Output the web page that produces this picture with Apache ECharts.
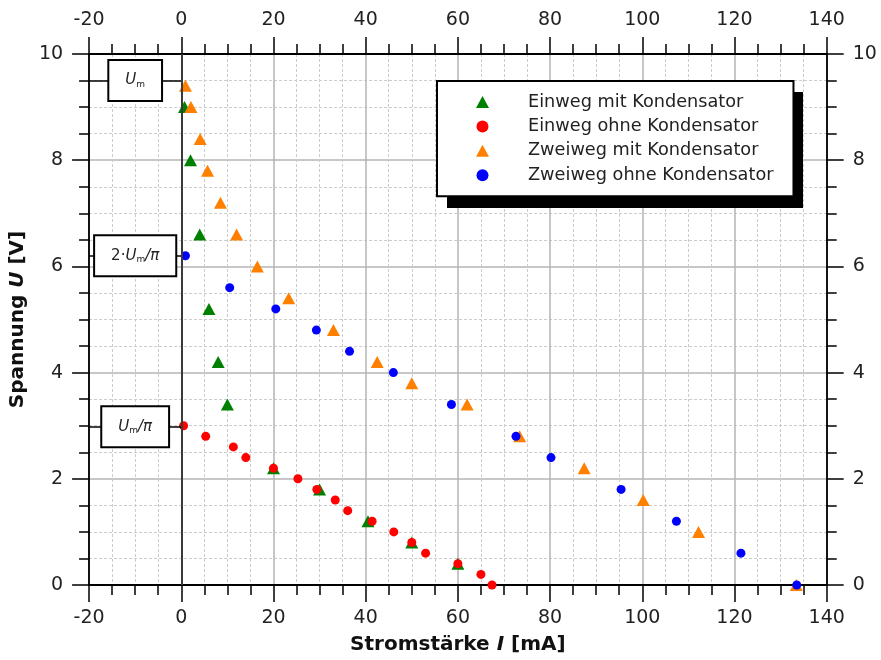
<!DOCTYPE html>
<html>
<head>
<meta charset="utf-8">
<script src="https://cdn.jsdelivr.net/npm/echarts@6/dist/echarts.min.js"></script>
<style>
  html, body { margin: 0; padding: 0; background: #fff; }
  #main { width: 881px; height: 660px; }
</style>
</head>
<body>
<div id="main"></div>
<script>
// Messwerte: Strom I [mA], Spannung U [V]
var einwegMitI = [0.7, 2, 4, 6, 8, 10, 20, 30, 40.5, 50, 60];
var einwegMitU = [9.0, 8.0, 6.6, 5.2, 4.2, 3.4, 2.2, 1.8, 1.2, 0.8, 0.4];

var einwegOhneI = [0.5, 5.3, 11.3, 14, 20, 25.3, 29.4, 33.4, 36.1, 41.4, 46.1, 50, 53, 60, 65, 67.4];
var einwegOhneU = [3.0, 2.8, 2.6, 2.4, 2.2, 2.0, 1.8, 1.6, 1.4, 1.2, 1.0, 0.8, 0.6, 0.4, 0.2, 0.0];

var zweiwegMitI = [0.9, 2.1, 4.1, 5.7, 8.5, 12, 16.5, 23.3, 33, 42.5, 50, 62, 73.4, 87.4, 100.2, 112.2, 133.4];
var zweiwegMitU = [9.4, 9.0, 8.4, 7.8, 7.2, 6.6, 6.0, 5.4, 4.8, 4.2, 3.8, 3.4, 2.8, 2.2, 1.6, 1.0, 0.0];

var zweiwegOhneI = [0.9, 10.5, 20.5, 29.3, 36.5, 46, 58.6, 72.6, 80.2, 95.4, 107.4, 121.4, 133.5];
var zweiwegOhneU = [6.2, 5.6, 5.2, 4.8, 4.4, 4.0, 3.4, 2.8, 2.4, 1.8, 1.2, 0.6, 0.0];

var seriesNames = ['Einweg mit Kondensator', 'Einweg ohne Kondensator', 'Zweiweg mit Kondensator', 'Zweiweg ohne Kondensator'];

// Bezugswerte links (U_m, 2*U_m/pi, U_m/pi)
var refLevels = [9.5, 6.2, 2.98];
var refLabels = ['{i|U}{s|m}', '{n|2·}{i|U}{s|m}{i|/π}', '{i|U}{s|m}{i|/π}'];

var FONT = 'DejaVu Sans';

function pairs(xs, ys) {
  return xs.map(function (x, i) { return [x, ys[i]]; });
}

var myChart = echarts.init(document.getElementById('main'));

var refLines = refLevels.map(function (v, i) {
  return [
    { coord: [-20, v], label: { formatter: refLabels[i] } },
    { coord: [0, v] }
  ];
});
refLines.push({ xAxis: 0, lineStyle: { color: '#3a3a3a', width: 2, type: 'solid' }, label: { show: false } });

function xAxisCfg(pos, showSplit) {
  return {
    type: 'value',
    position: pos,
    min: -20,
    max: 140,
    interval: 20,
    axisLine: { onZero: false, lineStyle: { color: '#000', width: 1.8 } },
    axisTick: { length: 17, lineStyle: { color: '#000', width: 1.5 } },
    minorTick: { show: true, splitNumber: 4, length: 10, lineStyle: { color: '#000', width: 1.5 } },
    axisLabel: { margin: 24, fontFamily: FONT, fontSize: 19, color: '#222' },
    splitLine: { show: showSplit, lineStyle: { color: '#b4b4b4', width: 1.5 } },
    minorSplitLine: { show: showSplit, lineStyle: { color: '#cccccc', width: 1, type: [3, 2] } }
  };
}

function yAxisCfg(pos, showSplit) {
  return {
    type: 'value',
    position: pos,
    min: 0,
    max: 10,
    interval: 2,
    axisLine: { onZero: false, lineStyle: { color: '#000', width: 1.8 } },
    axisTick: { length: 17, lineStyle: { color: '#000', width: 1.5 } },
    minorTick: { show: true, splitNumber: 4, length: 10, lineStyle: { color: '#000', width: 1.5 } },
    axisLabel: { margin: 26, fontFamily: FONT, fontSize: 19, color: '#222' },
    splitLine: { show: showSplit, lineStyle: { color: '#b4b4b4', width: 1.5 } },
    minorSplitLine: { show: showSplit, lineStyle: { color: '#cccccc', width: 1, type: [3, 2] } }
  };
}

var xBottom = xAxisCfg('bottom', true);
xBottom.name = 'Stromstärke {it|I} [mA]';
xBottom.nameLocation = 'middle';
xBottom.nameGap = 50;
xBottom.nameTextStyle = {
  fontFamily: FONT, fontWeight: 'bold', fontSize: 20, color: '#111',
  rich: { it: { fontFamily: FONT, fontWeight: 'bold', fontStyle: 'italic', fontSize: 20, color: '#111' } }
};
var xTop = xAxisCfg('top', false);

var yLeft = yAxisCfg('left', true);
yLeft.name = 'Spannung {it|U} [V]';
yLeft.nameLocation = 'middle';
yLeft.nameGap = 56;
yLeft.nameTextStyle = {
  fontFamily: FONT, fontWeight: 'bold', fontSize: 20, color: '#111',
  rich: { it: { fontFamily: FONT, fontWeight: 'bold', fontStyle: 'italic', fontSize: 20, color: '#111' } }
};
var yRight = yAxisCfg('right', false);

myChart.setOption({
  animation: false,
  grid: { left: 87.7, right: 54.3, top: 54, bottom: 72.7 },
  // schwarzer Schatten hinter der Legende
  graphic: [{
    type: 'rect',
    z: 3,
    silent: true,
    shape: { x: 447, y: 92, width: 356, height: 116 },
    style: { fill: '#000' }
  }],
  legend: {
    data: seriesNames,
    orient: 'vertical',
    left: 437,
    top: 81,
    z: 5,
    padding: [11, 20, 11, 39],
    itemWidth: 13,
    itemHeight: 12,
    itemGap: 4.4,
    backgroundColor: '#fff',
    borderColor: '#000',
    borderWidth: 2,
    borderRadius: 0,
    textStyle: { fontFamily: FONT, fontSize: 17.7, color: '#222', lineHeight: 20, padding: [0, 0, 0, 34] }
  },
  xAxis: [xBottom, xTop],
  yAxis: [yLeft, yRight],
  series: [
    {
      name: seriesNames[0],
      type: 'scatter',
      symbol: 'triangle',
      symbolSize: [13, 12],
      itemStyle: { color: '#008000', opacity: 1 },
      data: pairs(einwegMitI, einwegMitU),
      markLine: {
        silent: true,
        symbol: ['none', 'none'],
        animation: false,
        lineStyle: { color: '#000', width: 1.5, type: 'solid' },
        label: {
          show: true,
          position: 'middle',
          distance: 0,
          verticalAlign: 'middle',
          backgroundColor: '#fff',
          borderColor: '#000',
          borderWidth: 2,
          padding: [11, 16, 11, 16],
          color: '#222',
          rich: {
            i: { fontFamily: FONT, fontStyle: 'italic', fontSize: 15, color: '#222' },
            n: { fontFamily: FONT, fontSize: 15, color: '#222' },
            s: { fontFamily: FONT, fontSize: 9, color: '#222', padding: [8, 0, 0, 0] }
          }
        },
        data: refLines
      }
    },
    {
      name: seriesNames[1],
      type: 'scatter',
      symbol: 'circle',
      symbolSize: 9,
      itemStyle: { color: '#ff0000', opacity: 1 },
      data: pairs(einwegOhneI, einwegOhneU)
    },
    {
      name: seriesNames[2],
      type: 'scatter',
      symbol: 'triangle',
      symbolSize: [13, 12],
      itemStyle: { color: '#ff8000', opacity: 1 },
      data: pairs(zweiwegMitI, zweiwegMitU)
    },
    {
      name: seriesNames[3],
      type: 'scatter',
      symbol: 'circle',
      symbolSize: 9,
      itemStyle: { color: '#0000ff', opacity: 1 },
      data: pairs(zweiwegOhneI, zweiwegOhneU)
    }
  ]
});
</script>
</body>
</html>
